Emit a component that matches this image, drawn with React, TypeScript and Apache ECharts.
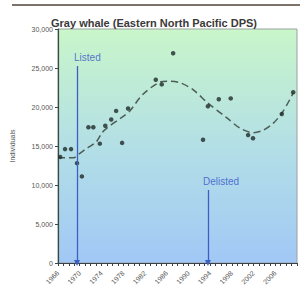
import React, { useEffect, useRef } from "react";
import * as echarts from "echarts";

const surveyYears = [1966.4, 1967.3, 1968.4, 1969.5, 1970.4, 1971.6, 1972.5, 1973.7, 1974.7, 1975.8, 1976.7, 1977.8, 1978.9, 1984.0, 1985.1, 1987.2, 1992.7, 1993.6, 1995.6, 1997.8, 2001.0, 2001.9, 2007.2, 2009.3];
const abundance = [13600, 14600, 14600, 12800, 11100, 17400, 17400, 15300, 17600, 18400, 19500, 15400, 19800, 23500, 22900, 26900, 15800, 20100, 21000, 21100, 16400, 16000, 19100, 21900];

const trendYears = [1966.0, 1968.9, 1969.9, 1971.3, 1973.0, 1974.1, 1975.0, 1977.6, 1979.1, 1981.6, 1984.8, 1986.1, 1988.5, 1990.9, 1993.6, 1997.1, 1999.5, 2001.9, 2003.7, 2005.6, 2007.4, 2009.3];
const trendValues = [13500, 13500, 14000, 14700, 15500, 16700, 17300, 18600, 19400, 21600, 23200, 23300, 23100, 22200, 20500, 18600, 17300, 16700, 17000, 17900, 19400, 21800];

const eventNames = ["Listed", "Delisted"];
const eventYears = [1969.5, 1993.6];
const eventLineTops = [25250, 9360];
const eventLabelYears = [1968.95, 1992.7];
const eventLabelValues = [26400, 10500];

const FONT = "Liberation Sans, Arial, sans-serif";

export default function App() {
  const ref = useRef<HTMLDivElement>(null);
  useEffect(() => {
    if (!ref.current) return;
    const chart = echarts.init(ref.current, null, { renderer: "svg" });
    const option: any = {
      animation: false,
      textStyle: { fontFamily: FONT },
      title: {
        text: "Gray whale (Eastern North Pacific DPS)",
        left: "center",
        top: 12,
        textStyle: { fontSize: 11, fontWeight: "bold", color: "#3a3a3a", fontFamily: FONT },
      },
      graphic: [
        { type: "rect", left: 12, top: 4, shape: { width: 288, height: 2 }, style: { fill: "#7d726a" } },
      ],
      grid: {
        left: 58,
        right: 11,
        top: 29,
        bottom: 33,
        show: true,
        borderColor: "#9aa0a0",
        borderWidth: 1,
        backgroundColor: new echarts.graphic.LinearGradient(0, 0, 0, 1, [
          { offset: 0, color: "#c9f6c9" },
          { offset: 0.5, color: "#b3dfe6" },
          { offset: 1, color: "#a1c8f6" },
        ]),
      },
      xAxis: {
        type: "value",
        min: 1966,
        max: 2010,
        interval: 2,
        splitLine: { show: false },
        axisLine: { show: true, lineStyle: { color: "#3a4048", width: 1 } },
        axisTick: { show: true, length: 3, lineStyle: { color: "#3a4048" } },
        minorTick: { show: true, splitNumber: 2, length: 3, lineStyle: { color: "#3a4048" } },
        axisLabel: {
          rotate: 45,
          fontSize: 7,
          color: "#555",
          margin: 9,
          fontFamily: FONT,
          formatter: (v: number) => ((v - 1966) % 4 === 0 && v <= 2006 ? String(v) : ""),
        },
      },
      yAxis: {
        type: "value",
        min: 0,
        max: 30000,
        interval: 5000,
        name: "Individuals",
        nameLocation: "middle",
        nameGap: 42,
        nameTextStyle: { fontSize: 7, color: "#555", fontFamily: FONT },
        splitLine: { show: false },
        axisLine: { show: true, lineStyle: { color: "#3a4a40", width: 1.2 } },
        axisTick: { show: true, length: 3, lineStyle: { color: "#3a4a40" } },
        axisLabel: {
          fontSize: 7,
          color: "#555",
          margin: 5,
          fontFamily: FONT,
          formatter: (v: number) => v.toLocaleString("en-US"),
        },
      },
      series: [
        {
          type: "line",
          data: trendYears.map((y, i) => [y, trendValues[i]]),
          smooth: 0.3,
          showSymbol: false,
          lineStyle: { color: "#4d5d55", width: 1.5, type: [7, 4] },
          z: 2,
          markLine: {
            silent: true,
            symbol: ["none", "triangle"],
            symbolSize: [6, 6],
            label: { show: false },
            lineStyle: { color: "#3d5fc4", width: 1.3, type: "solid" },
            data: eventYears.map((y, i) => [
              { coord: [y, eventLineTops[i]] },
              { coord: [y, 0] },
            ]),
          },
        },
        {
          type: "scatter",
          data: surveyYears.map((y, i) => [y, abundance[i]]),
          symbolSize: 4.5,
          itemStyle: { color: "#1e2b28" },
          z: 3,
        },
        {
          type: "scatter",
          data: eventNames.map((n, i) => ({ name: n, value: [eventLabelYears[i], eventLabelValues[i]] })),
          symbolSize: 0,
          silent: true,
          label: {
            show: true,
            position: [0, 0],
            align: "left",
            verticalAlign: "middle",
            formatter: (p: any) => p.name,
            fontSize: 10,
            color: "#3352c8",
            fontFamily: FONT,
          },
        },
      ],
    };
    chart.setOption(option);
    return () => chart.dispose();
  }, []);
  return (
    <div
      ref={ref}
      style={{ position: "fixed", left: 0, top: 0, width: 308, height: 296, background: "#fff" }}
    />
  );
}
